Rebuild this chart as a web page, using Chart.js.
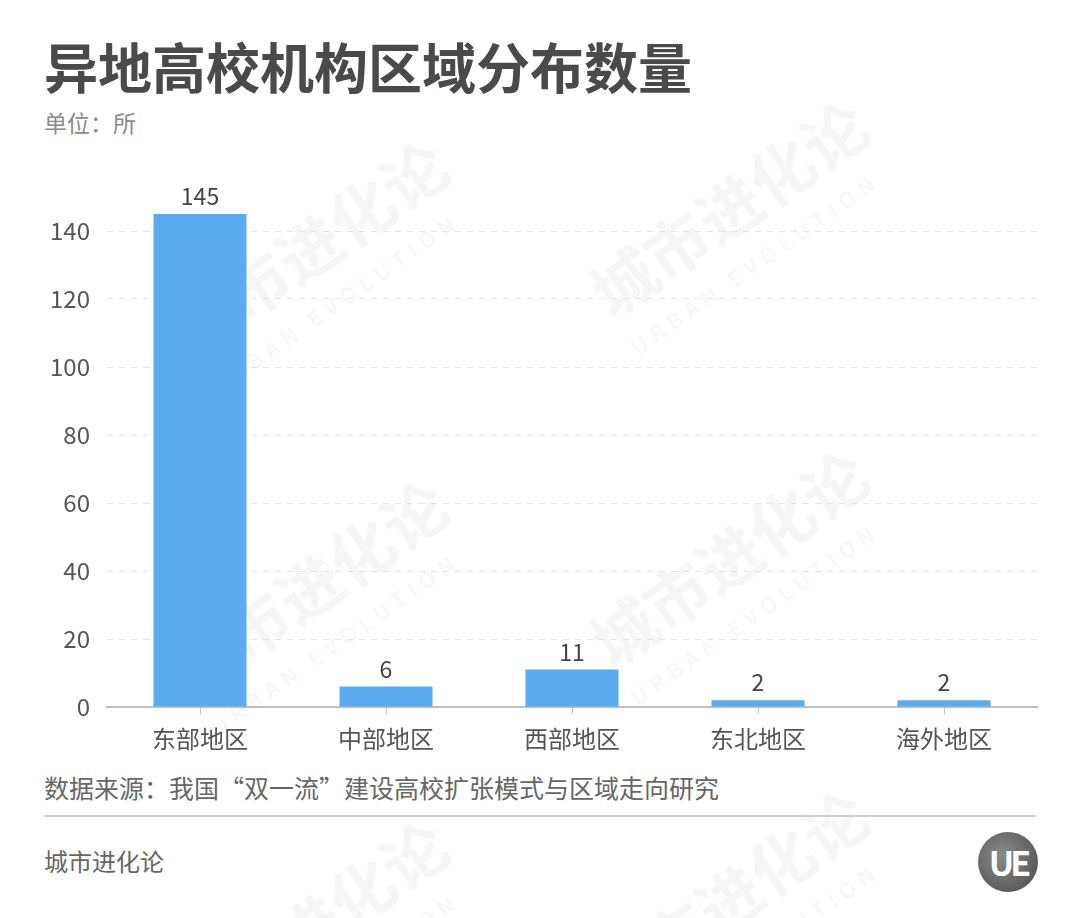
<!DOCTYPE html>
<html><head><meta charset="utf-8">
<script src="https://cdn.jsdelivr.net/npm/chart.js@4.4.1/dist/chart.umd.min.js"></script>
<style>
html,body{margin:0;padding:0;background:#fff;width:1080px;height:918px;overflow:hidden;font-family:"Noto Sans CJK SC","Noto Sans",sans-serif;}
.abs{position:absolute;white-space:nowrap;}
#title{left:44px;top:30px;font-size:54px;font-weight:bold;color:#4a4a4a;line-height:72px;}
#unit{left:44px;top:106px;font-size:23px;color:#8a8a8a;line-height:32px;}
#source{left:44px;top:771px;font-size:25px;color:#666;line-height:32px;}
#rule{left:44px;top:815px;width:992px;height:2px;background:#d0d0d0;}
#brand{left:44px;top:845px;font-size:24px;color:#666;line-height:32px;}
#logo{left:978px;top:832px;width:60px;height:60px;border-radius:50%;background:radial-gradient(circle at 40% 40%,#8a8a8a,#4a4a4a);color:#fff;font-weight:bold;font-size:34px;text-align:center;line-height:60px;letter-spacing:-4px;}
.wm{position:absolute;white-space:nowrap;color:rgba(0,0,0,0.035);font-weight:bold;transform:rotate(-35deg);transform-origin:left top;}
.wm span{display:block;font-size:22px;letter-spacing:6px;font-weight:bold;}
#wrap{position:absolute;left:0;top:150px;width:1080px;height:618px;}
</style></head>
<body>
<div class="wm" style="left:150px;top:640px;font-size:64px;">城市进化论<span>URBAN EVOLUTION</span></div>
<div class="wm" style="left:570px;top:610px;font-size:64px;">城市进化论<span>URBAN EVOLUTION</span></div>
<div class="wm" style="left:150px;top:300px;font-size:64px;">城市进化论<span>URBAN EVOLUTION</span></div>
<div class="wm" style="left:570px;top:260px;font-size:64px;">城市进化论<span>URBAN EVOLUTION</span></div>
<div class="wm" style="left:150px;top:980px;font-size:64px;">城市进化论<span>URBAN EVOLUTION</span></div>
<div class="wm" style="left:570px;top:950px;font-size:64px;">城市进化论<span>URBAN EVOLUTION</span></div>
<div id="title" class="abs">异地高校机构区域分布数量</div>
<div id="unit" class="abs">单位：所</div>
<div id="wrap"><canvas id="c"></canvas></div>
<div id="source" class="abs">数据来源：我国“双一流”建设高校扩张模式与区域走向研究</div>
<div id="rule" class="abs"></div>
<div id="brand" class="abs">城市进化论</div>
<div id="logo" class="abs">UE</div>
<script>
const categories = ["东部地区","中部地区","西部地区","东北地区","海外地区"];
const values = [145, 6, 11, 2, 2];
const yTicks = [0, 20, 40, 60, 80, 100, 120, 140];

const FONT = '"Noto Sans CJK SC","Noto Sans",sans-serif';
const labelPlugin = {
  id:'valueLabels',
  afterDatasetsDraw(chart){
    const ctx = chart.ctx;
    const meta = chart.getDatasetMeta(0);
    ctx.save();
    ctx.font = '23px ' + FONT;
    ctx.fillStyle = '#444';
    ctx.textAlign = 'center';
    ctx.textBaseline = 'bottom';
    meta.data.forEach((bar,i)=>{
      ctx.fillText(String(values[i]), bar.x, bar.y - 6);
    });
    ctx.restore();
  }
};

new Chart(document.getElementById('c'), {
  type:'bar',
  data:{labels:categories, datasets:[{data:values, backgroundColor:'#5aabf0', barPercentage:0.5, categoryPercentage:1.0}]},
  options:{
    responsive:true, maintainAspectRatio:false, animation:false,
    layout:{padding:{top:47,right:43,left:0,bottom:0}},
    plugins:{legend:{display:false}, tooltip:{enabled:false}},
    scales:{
      x:{
        grid:{display:true, drawOnChartArea:false, drawTicks:true, tickLength:7, color:'#bfbfbf', offset:false},
        border:{display:true, color:'#bfbfbf', width:2},
        ticks:{font:{size:24, family:FONT}, color:'#555', padding:10},
        afterFit(s){ s.height = 61; }
      },
      y:{
        min:0, max:150,
        afterBuildTicks(s){ s.ticks = yTicks.map(v=>({value:v})); },
        grid:{color:'#e3e3e3', drawTicks:false, lineWidth:1},
        border:{display:false, dash:[6,6]},
        ticks:{font:{size:24, family:FONT}, color:'#555', padding:17},
        afterFit(s){ s.width = 107; }
      }
    }
  },
  plugins:[labelPlugin]
});
</script>
</body></html>
